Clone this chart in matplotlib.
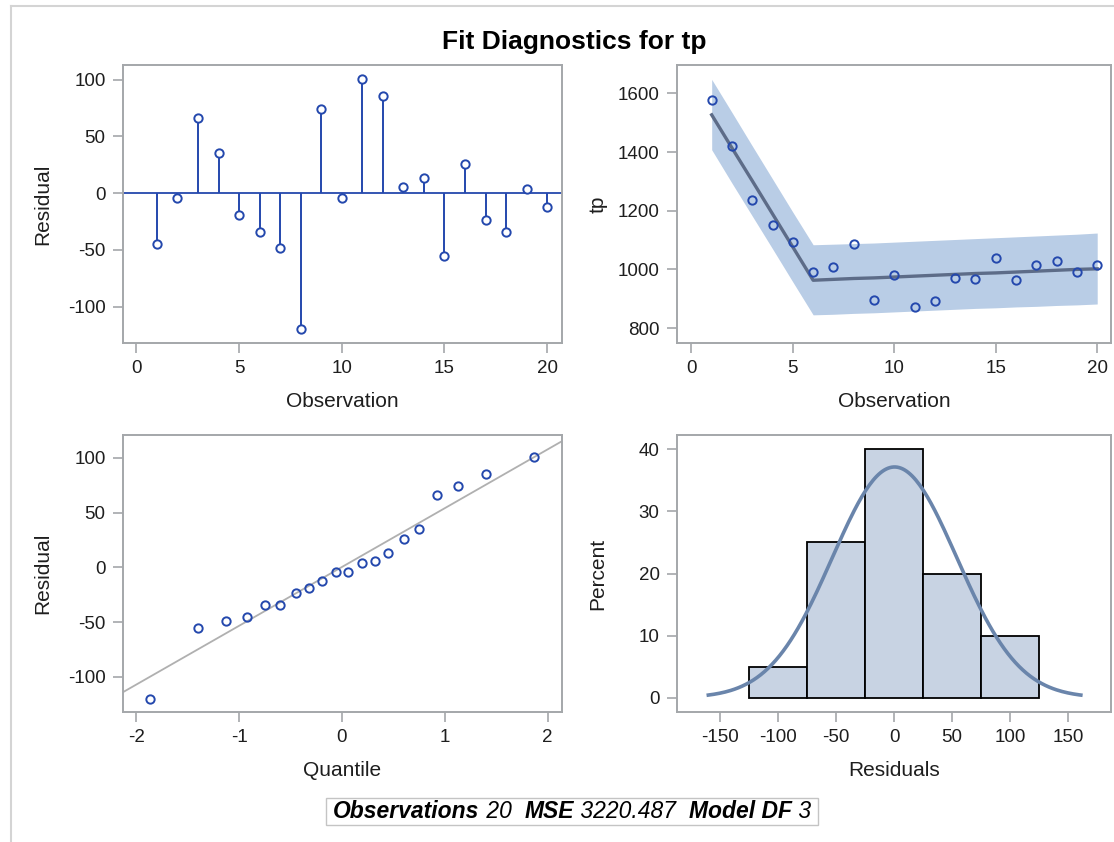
import numpy as np
import matplotlib
matplotlib.use("Agg")
import matplotlib.pyplot as plt
from matplotlib.lines import Line2D
from matplotlib.patches import Rectangle

plt.rcParams["font.family"] = ["Liberation Sans", "DejaVu Sans"]
plt.rcParams["axes.unicode_minus"] = False

# observation index and residuals
obs = [1, 2, 3, 4, 5, 6, 7, 8, 9, 10, 11, 12, 13, 14, 15, 16, 17, 18, 19, 20]
resid = [-45, -4.5, 66, 35.5, -19, -34.5, -48.5, -120, 74.5, -4.5,
         100.5, 85.5, 5.5, 13.5, -55, 26, -23.5, -34.5, 4, -12.5]

# observed tp, fitted values and prediction limits (top right panel)
tp_obs = [1577, 1421, 1237, 1153, 1093, 991, 1009, 1088, 896, 980,
          872, 891, 972, 967, 1039, 963, 1016, 1027, 991, 1015]
tp_fit = [1527, 1414, 1302, 1189, 1076, 963, 966, 969, 971, 974,
          977, 980, 983, 986, 988, 991, 994, 997, 1000, 1002]
tp_upper = [1648, 1535, 1421, 1308, 1195, 1084, 1086, 1088, 1090, 1093,
            1096, 1099, 1102, 1105, 1108, 1111, 1114, 1117, 1120, 1124]
tp_lower = [1408, 1294, 1182, 1070, 957, 845, 847, 850, 852, 855,
            858, 861, 864, 867, 869, 872, 874, 877, 879, 882]

# normal quantiles on the QQ plot
quantiles = [-1.87, -1.40, -1.13, -0.92, -0.75, -0.60, -0.45, -0.32, -0.19, -0.06,
             0.06, 0.19, 0.32, 0.45, 0.60, 0.75, 0.92, 1.13, 1.40, 1.87]

# histogram bin edges for residuals
bin_edges = [-125, -75, -25, 25, 75, 125]

footer_parts = [("Observations", True), (" 20  ", False), ("MSE", True),
                (" 3220.487  ", False), ("Model DF", True), (" 3", False)]

BLUE = "#2448ad"
FRAME = "#a4a7aa"
TEXT = "#1e1e1e"

W, H = 1114, 842
fig = plt.figure(figsize=(W / 100, H / 100), dpi=100)


def panel(left, top, right, bottom):
    ax = fig.add_axes([left / W, 1 - bottom / H, (right - left) / W, (bottom - top) / H])
    for sp in ax.spines.values():
        sp.set_color(FRAME)
        sp.set_linewidth(1.4)
    ax.tick_params(direction="out", length=7.5, width=1.2, color=FRAME,
                   labelsize=13.5, labelcolor=TEXT, pad=5)
    return ax


def labels(ax, xlab, ylab):
    ax.set_xlabel(xlab, fontsize=15, color=TEXT)
    ax.set_ylabel(ylab, fontsize=15, color=TEXT)
    ax.xaxis.label.set_va("center")
    ax.yaxis.label.set_va("center")
    ax.xaxis.set_label_coords(0.5, -0.21)
    ax.yaxis.set_label_coords(-0.182, 0.5)


# --- residual by observation
ax1 = panel(123, 65, 562, 343)
ax1.axhline(0, color=BLUE, lw=1.3, zorder=2)
ax1.vlines(obs, 0, resid, color=BLUE, lw=1.4, zorder=2)
ax1.plot(obs, resid, "o", mfc="white", mec=BLUE, ms=6, mew=1.4, zorder=3)
ax1.set_xlim(-0.65, 20.72)
ax1.set_ylim(-132, 113)
ax1.set_xticks([0, 5, 10, 15, 20])
ax1.set_yticks([-100, -50, 0, 50, 100])
labels(ax1, "Observation", "Residual")

# --- tp by observation with fit and limits
ax2 = panel(677, 65, 1111, 343)
ax2.fill_between(obs, tp_lower, tp_upper, color="#b9cde6", lw=0, zorder=1)
ax2.plot(obs, tp_fit, color="#5d6c88", lw=2.4, zorder=2)
ax2.plot(obs, tp_obs, "o", mfc="none", mec=BLUE, ms=6, mew=1.4, zorder=3)
ax2.set_xlim(-0.71, 20.68)
ax2.set_ylim(749, 1697)
ax2.set_xticks([0, 5, 10, 15, 20])
ax2.set_yticks([800, 1000, 1200, 1400, 1600])
labels(ax2, "Observation", "tp")

# --- normal QQ plot of residuals
res = np.array(resid)
mu, sd = res.mean(), res.std(ddof=1)
ax3 = panel(123, 435, 562, 712)
ax3.axline((0, mu), slope=sd, color="#b0b0b0", lw=1.3, zorder=1)
ax3.plot(quantiles, np.sort(res), "o", mfc="none", mec=BLUE, ms=6, mew=1.4, zorder=3)
ax3.set_xlim(-2.13, 2.14)
ax3.set_ylim(-132, 121)
ax3.set_xticks([-2, -1, 0, 1, 2])
ax3.set_yticks([-100, -50, 0, 50, 100])
labels(ax3, "Quantile", "Residual")

# --- histogram of residuals with normal density
ax4 = panel(677, 435, 1111, 712)
ax4.hist(res, bins=bin_edges, weights=np.full(len(res), 100 / len(res)),
         color="#c8d3e3", edgecolor="black", lw=1.3, zorder=1)
xs = np.linspace(-160, 161, 200)
dens = np.exp(-0.5 * ((xs - mu) / sd) ** 2) / (sd * np.sqrt(2 * np.pi))
ax4.plot(xs, dens * 50 * 100, color="#6a85ab", lw=2.6, zorder=2)
ax4.set_xlim(-187, 187)
ax4.set_ylim(-2.3, 42.3)
ax4.set_xticks([-150, -100, -50, 0, 50, 100, 150])
ax4.set_yticks([0, 10, 20, 30, 40])
labels(ax4, "Residuals", "Percent")

fig.text(574.5 / W, 1 - 42 / H, "Fit Diagnostics for tp", ha="center", va="center",
         fontsize=19, fontweight="bold", color="black")

# outer border (left and top edges visible)
bx, by = 11 / W, 1 - 6 / H
fig.add_artist(Line2D([bx, bx], [0, by], transform=fig.transFigure, color="#d4d4d4", lw=1.5))
fig.add_artist(Line2D([bx, 1], [by, by], transform=fig.transFigure, color="#d4d4d4", lw=1.5))

# footer statistics box
fig.canvas.draw()
renderer = fig.canvas.get_renderer()
pieces = []
x = 0.0
fy = 1 - 811 / H
for txt, bold in footer_parts:
    t = fig.text(x, fy, txt, ha="left", va="center", fontsize=16.5, style="italic",
                 fontweight="bold" if bold else "normal", color="black")
    bb = t.get_window_extent(renderer)
    pieces.append(t)
    x += bb.width / W
cx = 572 / W
for t in pieces:
    px, py = t.get_position()
    t.set_position((px + cx - x / 2, py))
fig.add_artist(Rectangle((cx - x / 2 - 7 / W, 1 - 825 / H), x + 14 / W, 27 / H,
                         transform=fig.transFigure, fill=False, edgecolor="#c4c4c4", lw=1.0))

fig.savefig("out.png", dpi=100)
